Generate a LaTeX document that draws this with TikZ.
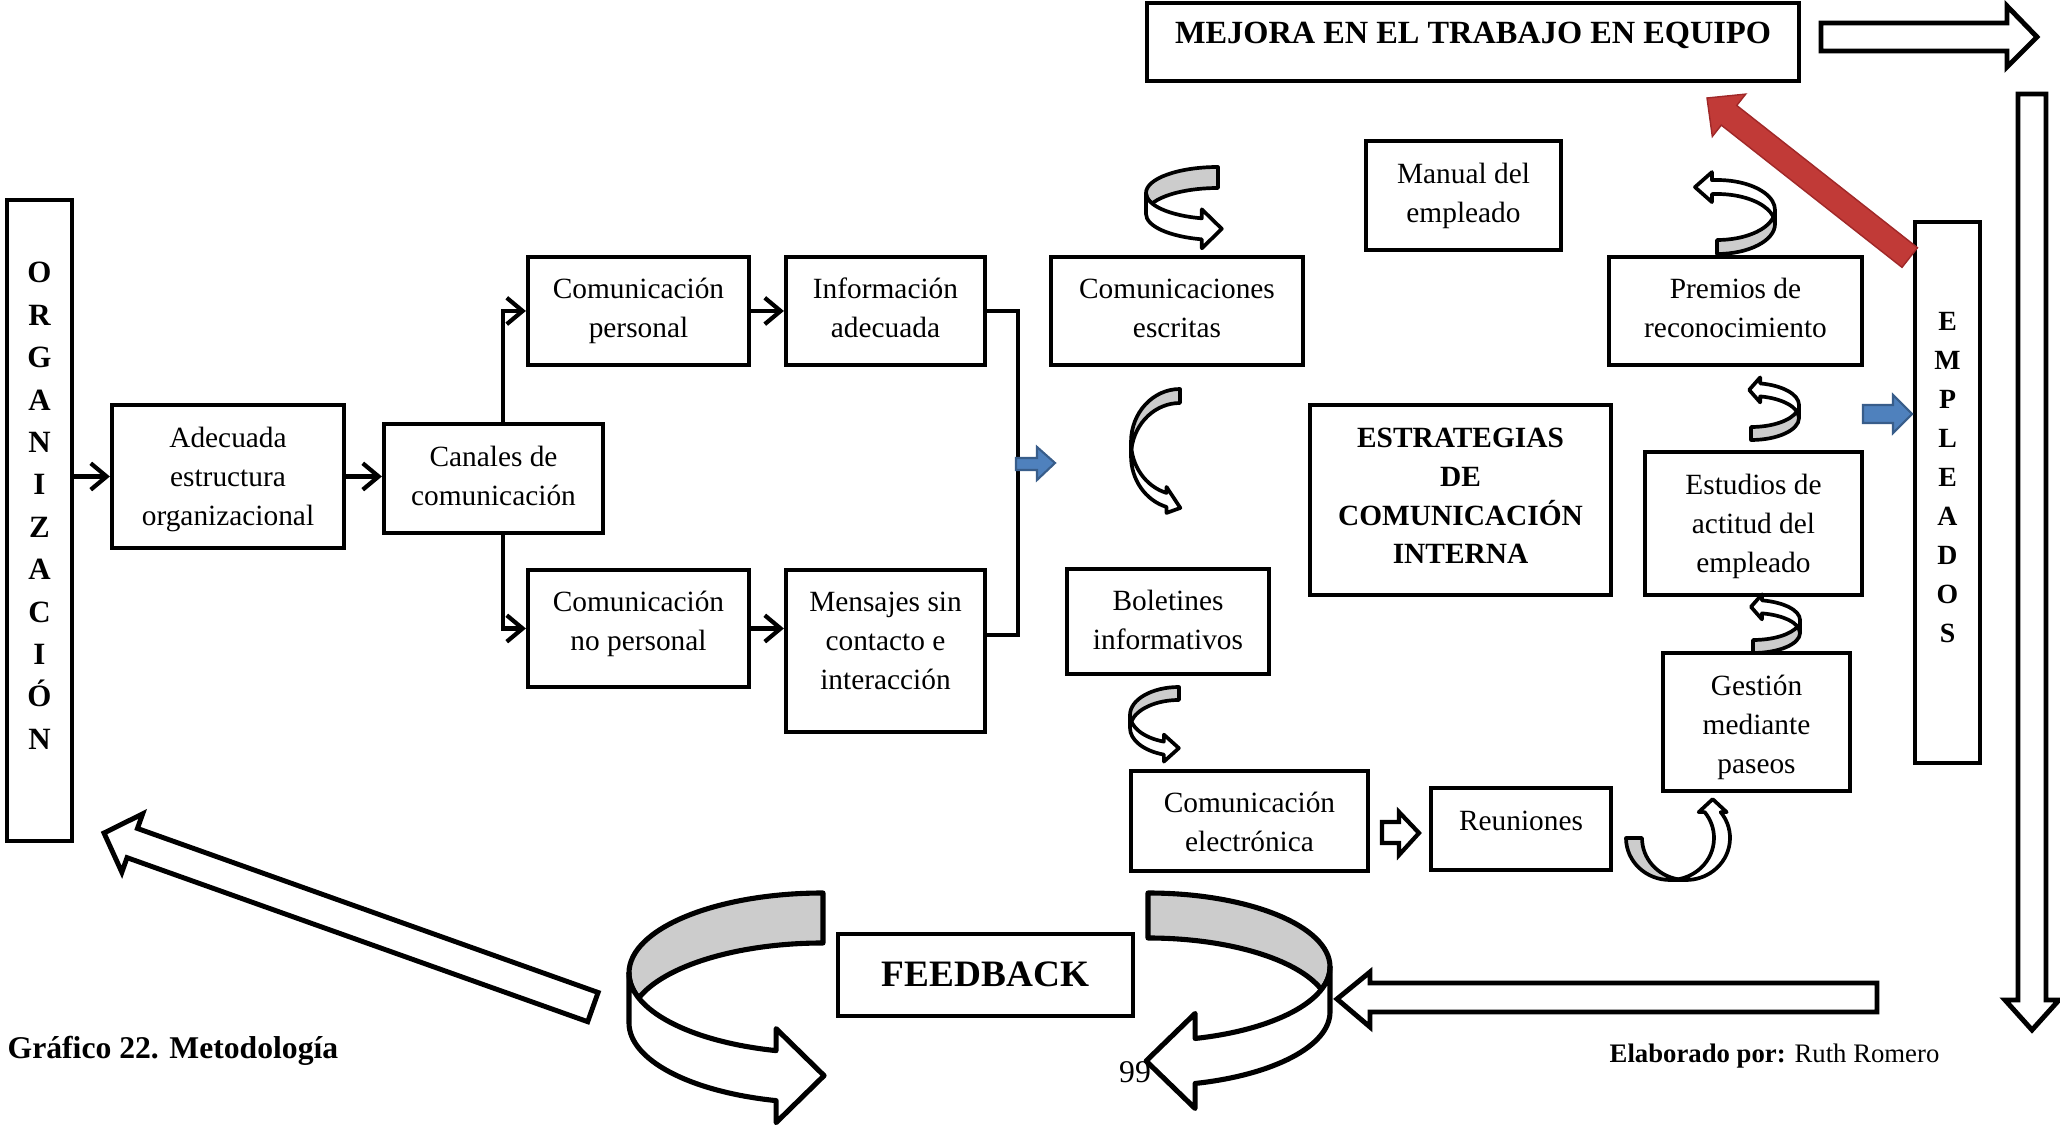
\documentclass[tikz,border=0pt]{standalone}
\usepackage{fontspec}
\setmainfont{Liberation Serif}
\usetikzlibrary{arrows.meta,fit,calc}

\definecolor{blueA}{RGB}{79,129,189}
\definecolor{blueB}{RGB}{56,93,138}
\definecolor{redA}{RGB}{193,58,55}
\definecolor{redB}{RGB}{160,40,40}

\newcommand\bxfont{\fontsize{8.35}{11.2}\selectfont}

% Ribbon-style curved arrow (3D band), drawn around the origin in a y-up frame.
% #1 x radius, #2 y radius, #3 band height, #4 end angle,
% #5 head length, #6 wing overhang, #7 head direction
\newcommand\ribbonarrow[7]{%
  \pgfmathsetmacro\rbC{180-asin(#3/(2*#2))}%
  \pgfmathsetmacro\rbD{360-\rbC}%
  \pgfmathsetmacro\rbX{#1*cos(#4)}%
  \pgfmathsetmacro\rbY{#2*sin(#4)}%
  \pgfmathsetmacro\rbPx{\rbX+#5*cos(#7)}%
  \pgfmathsetmacro\rbPy{\rbY-#3/2+#5*sin(#7)}%
  \filldraw[ribbonback] (0,#2)
    arc[start angle=90,end angle=180,x radius=#1,y radius=#2]
    arc[start angle=180,end angle=\rbD,x radius=#1,y radius=#2]
    arc[start angle=\rbC,end angle=90,x radius=#1,y radius=#2] -- cycle;
  \filldraw[ribbonfront] (-#1,0)
    arc[start angle=180,end angle=#4,x radius=#1,y radius=#2]
    -- (\rbX,\rbY+#6) -- (\rbPx,\rbPy) -- (\rbX,\rbY-#3-#6) -- (\rbX,\rbY-#3)
    arc[start angle=#4,end angle=180,x radius=#1,y radius=#2] -- cycle;
}

\begin{document}
\begin{tikzpicture}[x=0.01cm,y=-0.01cm,
  box/.style={draw=black,line width=1.2pt,inner sep=0pt,fill=white},
  txt/.style={align=center,inner sep=0pt,anchor=base,font=\bxfont},
  btxt/.style={align=center,inner sep=0pt,anchor=base,font=\bfseries\fontsize{8.35}{11}\selectfont},
  vlet/.style={inner sep=0pt,anchor=base,font=\bfseries\fontsize{8.8}{10}\selectfont},
  vlet2/.style={inner sep=0pt,anchor=base,font=\bfseries\fontsize{7.9}{10}\selectfont},
  conn/.style={line width=1.2pt,-{Straight Barb[length=4.5pt,width=7.5pt]}},
  wire/.style={line width=1.2pt,line join=miter},
  blockarrow/.style={draw=black,fill=white,line width=1.4pt,line join=miter},
  bluearrow/.style={fill=blueA,draw=blueB,line width=0.6pt},
  redarrow/.style={fill=redA,draw=redB,line width=0.4pt},
  ribbonback/.style={fill=black!20,draw=black,line join=round},
  ribbonfront/.style={fill=white,draw=black,line join=round},
  ribbonsmall/.style={line width=1.05pt},
  ribbonbig/.style={line width=1.45pt}]

\useasboundingbox (0,0) rectangle (2060,1128);
\fill[white] (0,0) rectangle (2060,1128);

% ---------- side bars ----------
\node[box,fit={(7,200)(72,841)}] (org) {};
\foreach \l [count=\i] in {O,R,G,A,N,I,Z,A,C,I,Ó,N}
  \node[vlet] (org-\i) at (39.5,{283+42.4*(\i-1)}) {\l};
\node[box,fit={(1915,222)(1980,763)}] (emp) {};
\foreach \l [count=\i] in {E,M,P,L,E,A,D,O,S}
  \node[vlet2] (emp-\i) at (1947.5,{331+38.9*(\i-1)}) {\l};

% ---------- boxes ----------
\node[box,fit={(112,405)(344,548)}] (adec) {};
\node[box,fit={(384,424)(603,533)}] (canales) {};
\node[box,fit={(528,257)(749,365)}] (cpers) {};
\node[box,fit={(786,257)(985,365)}] (info) {};
\node[box,fit={(528,570)(749,687)}] (cnopers) {};
\node[box,fit={(786,570)(985,732)}] (mens) {};
\node[box,fit={(1051,257)(1303,365)}] (escr) {};
\node[box,fit={(1067,569)(1269,674)}] (bolet) {};
\node[box,fit={(1131,771)(1368,871)}] (celec) {};
\node[box,fit={(1431,788)(1611,870)}] (reun) {};
\node[box,fit={(1663,653)(1850,791)}] (gest) {};
\node[box,fit={(1645,452)(1862,595)}] (estud) {};
\node[box,fit={(1609,257)(1862,365)}] (prem) {};
\node[box,fit={(1366,141)(1561,250)}] (manual) {};
\node[box,fit={(1310,405)(1611,595)}] (estrat) {};
\node[box,fit={(1147,3)(1799,81)}] (mejora) {};
\node[box,fit={(838,934)(1133,1016)}] (feedback) {};

% ---------- box texts (anchored on the baseline of the last line) ----------
\node[txt] (adec-t) at ($(adec.north)+(0,123)$) {Adecuada\\estructura\\organizacional};
\node[txt] (canales-t) at ($(canales.north)+(0,84)$) {Canales de\\comunicación};
\node[txt] (cpers-t) at ($(cpers.north)+(0,83)$) {Comunicación\\personal};
\node[txt] (info-t) at ($(info.north)+(0,83)$) {Información\\adecuada};
\node[txt] (cnopers-t) at ($(cnopers.north)+(0,83)$) {Comunicación\\no personal};
\node[txt] (mens-t) at ($(mens.north)+(0,122)$) {Mensajes sin\\contacto e\\interacción};
\node[txt] (escr-t) at ($(escr.north)+(0,83)$) {Comunicaciones\\escritas};
\node[txt] (bolet-t) at ($(bolet.north)+(0,83)$) {Boletines\\informativos};
\node[txt] (celec-t) at ($(celec.north)+(0,83)$) {Comunicación\\electrónica};
\node[txt] (reun-t) at ($(reun.north)+(0,45)$) {Reuniones};
\node[txt] (gest-t) at ($(gest.north)+(0,123)$) {Gestión\\mediante\\paseos};
\node[txt] (estud-t) at ($(estud.north)+(0,123)$) {Estudios de\\actitud del\\empleado};
\node[txt] (prem-t) at ($(prem.north)+(0,83)$) {Premios de\\reconocimiento};
\node[txt] (manual-t) at ($(manual.north)+(0,84)$) {Manual del\\empleado};
\node[btxt] (estrat-t) at ($(estrat.north)+(0,161)$) {ESTRATEGIAS\\DE\\COMUNICACIÓN\\INTERNA};
\node[inner sep=0pt,anchor=base,font=\bfseries\fontsize{9.2}{11}\selectfont] (mejora-t)
  at ($(mejora.north)+(0,43)$) {MEJORA EN EL TRABAJO EN EQUIPO};
\node[inner sep=0pt,anchor=base,font=\bfseries\fontsize{10.6}{12}\selectfont] (feedback-t)
  at (985.5,986) {FEEDBACK};

% ---------- connectors ----------
\coordinate (split) at (503,0);
\coordinate (brk) at (1018,635);
\draw[conn] (org.east |- adec.west) -- (adec.west);
\draw[conn] (adec.east) -- (canales.west |- adec.east);
\draw[conn] (canales.north -| split) |- (cpers.west);
\draw[conn] (canales.south -| split) |- (cnopers.west);
\draw[conn] (cpers.east) -- (info.west);
\draw[conn] (cnopers.east) -- (cnopers.east -| mens.west);
\draw[wire] (info.east) -| (brk) -- (brk -| mens.east);

% ---------- blue pointers ----------
\draw[bluearrow] (1016,458) -- (1037,458) -- (1037,447) -- (1055,463) -- (1037,480)
  -- (1037,470) -- (1016,470) -- cycle;
\draw[bluearrow] (1863,405) -- (1893,405) -- (1893,395) -- (1912,414) -- (1893,433)
  -- (1893,423) -- (1863,423) -- cycle;

% ---------- red arrow towards the team-work box ----------
\begin{scope}[shift={(1707,98)},rotate=-38.2]
  \draw[redarrow] (0,0) -- (28,-27) -- (28,-12.5) -- (258,-12.5) -- (258,12.5)
    -- (28,12.5) -- (28,27) -- cycle;
\end{scope}

% ---------- block arrows ----------
\draw[blockarrow] (1821,23) -- (2007,23) -- (2007,6) -- (2037,37) -- (2007,67)
  -- (2007,51) -- (1821,51) -- cycle;
\draw[blockarrow] (2018,94) -- (2046,94) -- (2046,1000) -- (2059,1000) -- (2032,1030)
  -- (2005,1000) -- (2018,1000) -- cycle;
\draw[blockarrow] (1877,983) -- (1877,1012) -- (1370,1012) -- (1370,1027) -- (1337,999)
  -- (1370,972) -- (1370,983) -- cycle;
\draw[blockarrow,line width=1.2pt] (1382,822) -- (1399,822) -- (1399,812) -- (1419,833)
  -- (1399,855) -- (1399,843) -- (1382,843) -- cycle;
\begin{scope}[shift={(104,833)},rotate=-19.6]
  \draw[blockarrow] (0,0) -- (30,-31) -- (30,-15.5) -- (519,-15.5) -- (519,15.5)
    -- (30,15.5) -- (30,31) -- cycle;
\end{scope}

% ---------- ribbon arrows ----------
\begin{scope}[ribbonbig,shift={(823,973)},yscale=-1]
  \ribbonarrow{194}{80}{50}{256}{48}{22}{0}
\end{scope}
\begin{scope}[ribbonbig,shift={(1148,967)},xscale=-1,yscale=-1]
  \ribbonarrow{182}{74}{45}{255}{49}{25}{0}
\end{scope}
\begin{scope}[ribbonsmall,shift={(1218,193)},yscale=-1]
  \ribbonarrow{72}{26}{21}{257}{20}{9}{0}
\end{scope}
\begin{scope}[ribbonsmall,shift={(1180,442)},yscale=-1]
  \ribbonarrow{49}{53}{14}{254}{16}{6}{-30}
\end{scope}
\begin{scope}[ribbonsmall,shift={(1179,715)},yscale=-1]
  \ribbonarrow{49}{28}{13}{252}{15}{7}{0}
\end{scope}
\begin{scope}[ribbonsmall,shift={(1717,224)},rotate=180,yscale=-1]
  \ribbonarrow{58}{30}{14}{275}{17}{8}{0}
\end{scope}
\begin{scope}[ribbonsmall,shift={(1751,418)},rotate=180,yscale=-1]
  \ribbonarrow{48}{22}{13}{259}{11}{6}{0}
\end{scope}
\begin{scope}[ribbonsmall,shift={(1753,633)},rotate=180,yscale=-1]
  \ribbonarrow{47}{20}{13}{259}{11}{6}{0}
\end{scope}
\begin{scope}[ribbonsmall,shift={(1670,838)},rotate=90,yscale=-1]
  \ribbonarrow{42}{44}{16}{308}{13}{6}{0}
\end{scope}

% ---------- captions ----------
\node[anchor=base west,inner sep=0pt,font=\bfseries\fontsize{9}{11}\selectfont] (caption)
  at (7,1058) {Gráfico 22. Metodología};
\node[anchor=base west,inner sep=0pt,font=\fontsize{7.6}{9}\selectfont] (author)
  at (1609,1062) {\textbf{Elaborado por:} Ruth Romero};
\node[anchor=base,inner sep=0pt,font=\fontsize{9}{10}\selectfont] (page)
  at (1135,1082) {99};
\end{tikzpicture}
\end{document}
